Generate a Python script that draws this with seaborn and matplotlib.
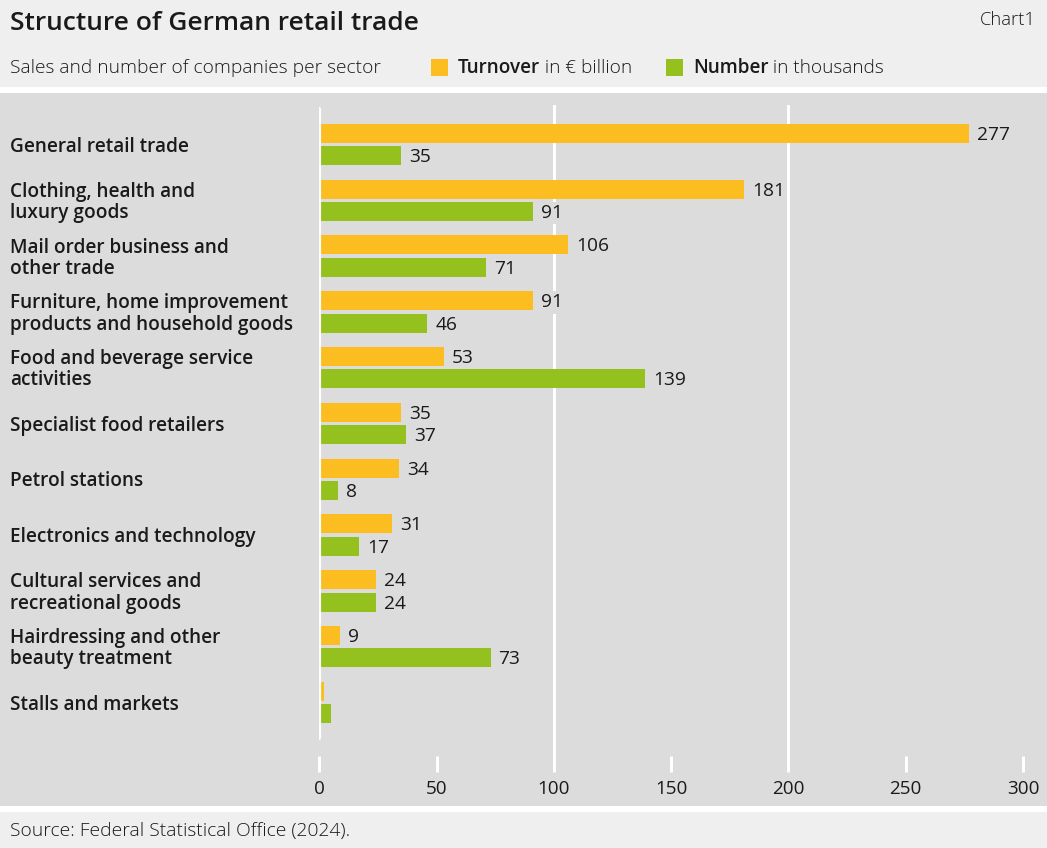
import matplotlib
matplotlib.use("Agg")
import matplotlib.pyplot as plt
from matplotlib.patches import Rectangle
import pandas as pd
import seaborn as sns

# Sectors of German retail trade
sectors = [
    "General retail trade",
    "Clothing, health and\nluxury goods",
    "Mail order business and\nother trade",
    "Furniture, home improvement\nproducts and household goods",
    "Food and beverage service\nactivities",
    "Specialist food retailers",
    "Petrol stations",
    "Electronics and technology",
    "Cultural services and\nrecreational goods",
    "Hairdressing and other\nbeauty treatment",
    "Stalls and markets",
]
# Turnover in € billion
turnover = [277, 181, 106, 91, 53, 35, 34, 31, 24, 9, 2]
# Number of companies in thousands
number = [35, 91, 71, 46, 139, 37, 8, 17, 24, 73, 5]
# Values shown as labels (None = no label)
turnover_labels = [277, 181, 106, 91, 53, 35, 34, 31, 24, 9, None]
number_labels = [35, 91, 71, 46, 139, 37, 8, 17, 24, 73, None]
series_names = ["Turnover", "Number"]
x_ticks = [0, 50, 100, 150, 200, 250, 300]
grid_lines = [100, 200]

YELLOW = "#fbbd1f"
GREEN = "#95c11f"
PLOT_BG = "#dcdcdc"
HEAD_BG = "#efefef"
TEXT = "#1a1a1a"

df = pd.DataFrame({
    "sector": sectors * 2,
    "value": turnover + number,
    "series": [series_names[0]] * len(sectors) + [series_names[1]] * len(sectors),
})

sns.set_theme(style="white")
plt.rcParams["font.family"] = ["Open Sans", "DejaVu Sans"]

W, H = 1047, 848
fig = plt.figure(figsize=(W / 100, H / 100), dpi=100)
fig.patch.set_facecolor("white")


def px_rect(x0, y0, x1, y1, color):
    fig.patches.append(Rectangle((x0 / W, 1 - y1 / H), (x1 - x0) / W, (y1 - y0) / H,
                                 transform=fig.transFigure, facecolor=color,
                                 edgecolor="none", zorder=-10))


# Background bands: header, plot area, footer
px_rect(0, 0, W, 87, HEAD_BG)
px_rect(0, 93, W, 806, PLOT_BG)
px_rect(0, 812, W, H, HEAD_BG)

# Axes in pixel coordinates
ax_left, ax_right, ax_top, ax_bottom = 319.3, 1023, 105, 772
ax = fig.add_axes([ax_left / W, 1 - ax_bottom / H, (ax_right - ax_left) / W, (ax_bottom - ax_top) / H])
ax.set_facecolor("none")

sns.barplot(data=df, y="sector", x="value", hue="series", orient="h",
            palette=[YELLOW, GREEN], saturation=1, width=0.8, gap=0.15, dodge=True,
            legend=False, ax=ax, zorder=3, linewidth=0)

ax.set_xlim(0, 300)
ax.set_ylim(11.245, -0.708)
for s in ax.spines.values():
    s.set_visible(False)
ax.set_xlabel("")
ax.set_ylabel("")

# Vertical white gridlines and zero line
ax_h = ax_bottom - ax_top
for g in grid_lines:
    ax.axvline(g, color="white", lw=2.2, zorder=1)
ax.axvline(0, ymin=(ax_bottom - 738) / ax_h, ymax=1 - (109 - ax_top) / ax_h,
           color="white", lw=3.0, zorder=4)

# X ticks as short white marks inside the axes bottom
ax.set_xticks(x_ticks)
ax.tick_params(axis="x", direction="in", length=11.5, width=2.2, color="white",
               pad=5.5, labelsize=13.6, labelcolor=TEXT, bottom=True)

# Category labels on the left
ax.set_yticks(range(len(sectors)))
ax.set_yticklabels([])
ax.tick_params(axis="y", left=False)
for i, name in enumerate(sectors):
    ax.annotate(name, xy=(0, i), xycoords=("axes fraction", "data"),
                xytext=(10 - ax_left, -2), textcoords="offset pixels",
                ha="left", va="center", fontsize=13.7, fontweight="semibold",
                color=TEXT, linespacing=1.08)

# Value labels beside each bar
for cont, labels in zip(ax.containers, [turnover_labels, number_labels]):
    for bar, lab in zip(cont, labels):
        if lab is None:
            continue
        y = bar.get_y() + bar.get_height() / 2
        ax.annotate(f"{lab}", xy=(bar.get_width(), y), xytext=(8, -1.5),
                    textcoords="offset pixels", ha="left", va="center",
                    fontsize=13.8, color=TEXT, zorder=5,
                    bbox=dict(boxstyle="square,pad=0.12", fc=PLOT_BG, ec="none"))

# Header texts
fig.text(10 / W, 1 - 23 / H, "Structure of German retail trade", ha="left", va="center",
         fontsize=19, fontweight="semibold", color=TEXT)
fig.text(1036 / W, 1 - 20 / H, "Chart1", ha="right", va="center", fontsize=13.2,
         fontweight="light", color=TEXT)
fig.text(10 / W, 1 - 68 / H, "Sales and number of companies per sector", ha="left",
         va="center", fontsize=13.75, fontweight="light", color=TEXT)

# Legend: colour squares followed by bold series name and unit
fig.canvas.draw()
renderer = fig.canvas.get_renderer()
legend_items = [(431, YELLOW, "Turnover", " in € billion"), (666, GREEN, "Number", " in thousands")]
for x0, col, bold, rest in legend_items:
    px_rect(x0, 59, x0 + 17, 76, col)
    t = fig.text((x0 + 27) / W, 1 - 68 / H, bold, ha="left", va="center",
                 fontsize=13.6, fontweight="semibold", color=TEXT)
    bb = t.get_window_extent(renderer)
    fig.text(bb.x1 / W, 1 - 68 / H, rest, ha="left", va="center", fontsize=13.7,
             fontweight="light", color=TEXT)

# Footer
fig.text(10 / W, 1 - 831 / H, "Source: Federal Statistical Office (2024).", ha="left",
         va="center", fontsize=13.9, fontweight="light", color=TEXT)

fig.savefig("out.png", dpi=100, facecolor=fig.get_facecolor())
